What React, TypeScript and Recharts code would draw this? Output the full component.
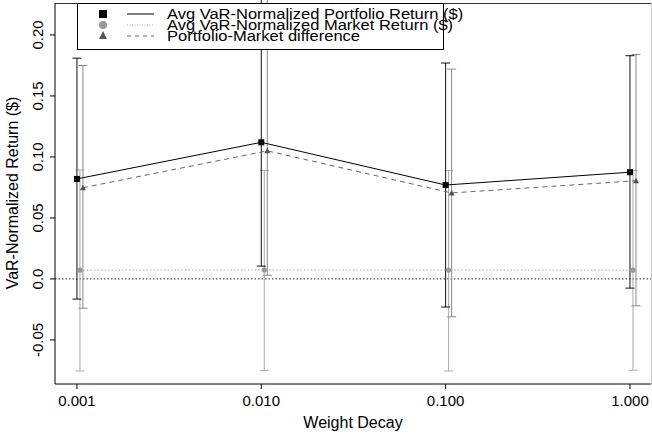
import { ComposedChart, Scatter, XAxis, YAxis, ErrorBar, ReferenceLine } from "recharts"

const weightDecay = [0.001, 0.01, 0.1, 1]

const portfolioAvg = [0.082, 0.112, 0.077, 0.0875]
const portfolioLow = [-0.0165, 0.0105, -0.023, -0.0075]
const portfolioHigh = [0.181, 0.25, 0.177, 0.183]

const marketAvg = [0.0072, 0.0074, 0.0073, 0.0072]
const marketLow = [-0.0755, -0.075, -0.0755, -0.0748]
const marketHigh = [0.0893, 0.089, 0.0888, 0.089]

const diffAvg = [0.0748, 0.105, 0.0705, 0.0805]
const diffLow = [-0.024, 0.003, -0.031, -0.022]
const diffHigh = [0.175, 0.245, 0.172, 0.184]

const xTicks = [0.001, 0.01, 0.1, 1]
const yTicks = [-0.05, 0, 0.05, 0.1, 0.15, 0.2]

const legendLabels = [
  "Avg VaR-Normalized Portfolio Return ($)",
  "Avg VaR-Normalized Market Return ($)",
  "Portfolio-Market difference",
]

// small horizontal jitter so the three error bars don't overlap
const jitter = [1, 1.038, 1.078]

const FONT = '"Liberation Sans", Arial, Helvetica, sans-serif'

const rows = (avg: number[], low: number[], high: number[], j: number) =>
  weightDecay.map((w, i) => ({
    x: Math.log10(w * j),
    y: avg[i],
    err: [avg[i] - low[i], high[i] - avg[i]],
  }))

const portfolioRows = rows(portfolioAvg, portfolioLow, portfolioHigh, jitter[0])
const marketRows = rows(marketAvg, marketLow, marketHigh, jitter[1])
const diffRows = rows(diffAvg, diffLow, diffHigh, jitter[2])

const Square = (p: any) => <rect x={p.cx - 3} y={p.cy - 3} width={6} height={6} fill="#000" />
const Dot = (p: any) => <circle cx={p.cx} cy={p.cy} r={2.6} fill="#999" />
const Tri = (p: any) => (
  <polygon points={`${p.cx},${p.cy - 3} ${p.cx - 3},${p.cy + 2.5} ${p.cx + 3},${p.cy + 2.5}`} fill="#555" />
)

const XTick = (props: any) => {
  const { x, y, payload } = props
  return (
    <text x={x} y={y + 15} textAnchor="middle" fontSize={15} fontFamily={FONT} fill="#000">
      {Math.pow(10, payload.value).toFixed(3)}
    </text>
  )
}

const YTick = (props: any) => {
  const { x, y, payload } = props
  const label = payload.value === 0 ? "0.0" : payload.value.toFixed(2)
  const bx = x - 5
  return (
    <text x={bx} y={y} transform={`rotate(-90, ${bx}, ${y})`} textAnchor="middle" fontSize={15} fontFamily={FONT} fill="#000">
      {label}
    </text>
  )
}

export default function App() {
  return (
    <div style={{ position: "absolute", left: 0, top: 0, width: 652, height: 435, background: "#fff", fontFamily: FONT }}>
      <ComposedChart width={652} height={435} margin={{ top: 3, right: 1, bottom: 0, left: 0 }}>
        <XAxis
          type="number"
          dataKey="x"
          domain={[-3.119, 0.114]}
          ticks={xTicks.map((t) => Math.log10(t))}
          allowDataOverflow
          height={51}
          tickSize={5}
          tick={<XTick />}
          axisLine={{ stroke: "#000" }}
          tickLine={{ stroke: "#000" }}
        />
        <YAxis
          type="number"
          dataKey="y"
          domain={[-0.0861, 0.2262]}
          ticks={yTicks}
          allowDataOverflow
          width={55}
          tickSize={5}
          tick={<YTick />}
          axisLine={{ stroke: "#000" }}
          tickLine={{ stroke: "#000" }}
        />
        <ReferenceLine y={0} stroke="#555" strokeWidth={1.3} strokeDasharray="1.5 2" />
        <Scatter
          data={marketRows}
          dataKey="y"
          shape={Dot}
          line={{ stroke: "#aaa", strokeWidth: 1, strokeDasharray: "1.5 2" }}
          isAnimationActive={false}
        >
          <ErrorBar dataKey="err" direction="y" width={4.5} stroke="#aaa" strokeWidth={1} />
        </Scatter>
        <Scatter
          data={diffRows}
          dataKey="y"
          shape={Tri}
          line={{ stroke: "#666", strokeWidth: 1, strokeDasharray: "5 4" }}
          isAnimationActive={false}
        >
          <ErrorBar dataKey="err" direction="y" width={4.5} stroke="#888" strokeWidth={1} />
        </Scatter>
        <Scatter
          data={portfolioRows}
          dataKey="y"
          shape={Square}
          line={{ stroke: "#000", strokeWidth: 1 }}
          isAnimationActive={false}
        >
          <ErrorBar dataKey="err" direction="y" width={4.5} stroke="#111" strokeWidth={1} />
        </Scatter>
      </ComposedChart>
      <svg width={652} height={435} style={{ position: "absolute", left: 0, top: 0, pointerEvents: "none" }}>
        <line x1={55} y1={3.5} x2={651} y2={3.5} stroke="#333" />
        <line x1={651.5} y1={3} x2={651.5} y2={384} stroke="#ccc" />
        <rect x={77.5} y={3.5} width={366} height={46} fill="#fff" stroke="#000" />
        <rect x={99} y={10} width={8} height={8} fill="#000" />
        <circle cx={103} cy={25} r={4} fill="#999" />
        <polygon points="103,31 99,39 107,39" fill="#555" />
        <line x1={127} y1={14} x2={154} y2={14} stroke="#000" />
        <line x1={127} y1={25} x2={154} y2={25} stroke="#aaa" strokeDasharray="1 1.5" />
        <line x1={127} y1={36} x2={154} y2={36} stroke="#666" strokeDasharray="4 4" />
        <g transform="translate(167,0) scale(1.1,1)">
          {legendLabels.map((t, i) => (
            <text key={t} x={0} y={19 + i * 11} fontSize={15} fontFamily={FONT} fill="#000">
              {t}
            </text>
          ))}
        </g>
        <text x={353} y={428} textAnchor="middle" fontSize={16} fontFamily={FONT} fill="#000">
          Weight Decay
        </text>
        <text x={18} y={193} transform="rotate(-90, 18, 193)" textAnchor="middle" fontSize={16} fontFamily={FONT} fill="#000">
          VaR-Normalized Return ($)
        </text>
      </svg>
    </div>
  )
}
